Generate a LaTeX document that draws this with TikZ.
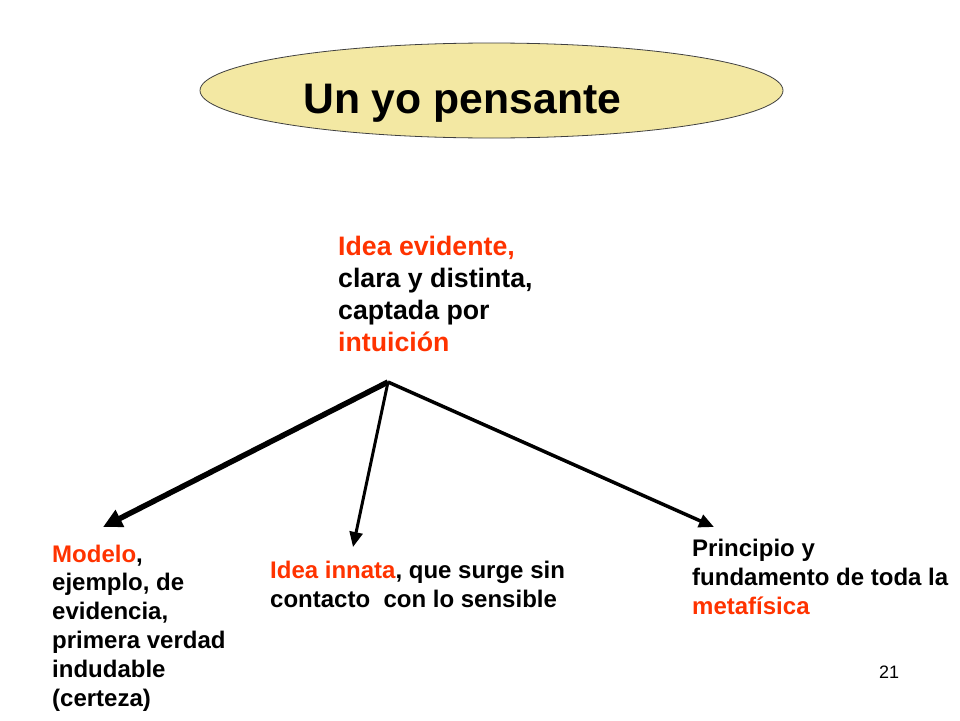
\documentclass[tikz,border=0pt]{standalone}
\usepackage{fontspec}
\setmainfont{Liberation Sans}
\usetikzlibrary{arrows.meta, shapes.geometric}

\definecolor{titlefill}{RGB}{243,232,163}
\definecolor{accent}{RGB}{255,51,0}

% anchor of a multi-line idea is the baseline of its last line
\tikzset{
    idea/.style={font=\bfseries\fontsize{24}{28.8}\selectfont, align=left,
        anchor=base west, inner sep=0pt},
    link/.style={-{Triangle[length=15pt, width=13pt]}, line width=3pt},
}

\begin{document}
\begin{tikzpicture}[x=1pt, y=-1pt]

\useasboundingbox[fill=white] (0,0) rectangle (960,720);

\node[ellipse, draw=black!75, fill=titlefill, line width=0.8pt,
    minimum width=583pt, minimum height=95pt, inner sep=0pt] (title) at (491.5,90.5) {};
\node[font=\bfseries\fontsize{42.7}{51}\selectfont, anchor=base west, inner sep=0pt]
    (titletext) at (303,113) {Un yo pensante};

\node[idea, font=\bfseries\fontsize{26.7}{32}\selectfont] (evidente) at (338,351)
    {\textcolor{accent}{Idea evidente,}\\ clara y distinta,\\ captada por\\ \textcolor{accent}{intuición}};

\node[idea] (modelo) at (52,706)
    {\textcolor{accent}{Modelo}, \\ ejemplo, de\\ evidencia,\\ primera verdad\\ indudable\\ (certeza)};
\node[idea] (innata) at (270,607)
    {\textcolor{accent}{Idea innata}, que surge sin\\ contacto\ \ con lo sensible};
\node[idea] (principio) at (692,614)
    {Principio y\\ fundamento de toda la\\ \textcolor{accent}{metafísica}};

\node[font=\fontsize{18}{22}\selectfont, inner sep=0pt] (page) at (889,672) {21};

\coordinate (apex) at (388,382);
\coordinate (tipmodelo) at (103,527);
\coordinate (tipinnata) at (353,547);
\coordinate (tipprincipio) at (714,527);

\draw[link, line width=5.5pt, -{Triangle[length=19pt, width=18pt]}] (apex) -- (tipmodelo);
\draw[link, line width=3pt] (apex) -- (tipinnata);
\draw[link, line width=3.5pt] (apex) -- (tipprincipio);

\end{tikzpicture}
\end{document}
